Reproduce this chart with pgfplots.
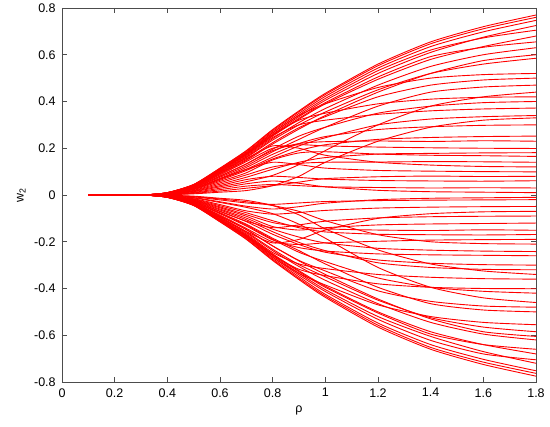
\documentclass[border=0pt]{standalone}
\usepackage{fontspec}
\setmainfont{Liberation Sans}
\usepackage{pgfplots}
\pgfplotsset{compat=1.18}
\definecolor{pr}{RGB}{255,0,0}
\begin{document}
\fontsize{12.5}{15}\selectfont
\begin{tikzpicture}[x=1pt,y=1pt]
\pgfplotstableread{
x P1 P2 P3 P4 P5 P6 P7 P8 P9 P10 P11 P12 P13 P14 P15 P16 P17 P18 P19 P20
0.1 0 0 0 0 0 0 0 0 0 0 0 0 0 0 0 0 0 0 0 0
0.3 0 0 0 0 0 0 0 0 0 0 0 0 0 0 0 0 0 0 0 0
0.4 .010 .010 .009 .009 .009 .010 .008 .007 .009 .006 .006 .008 .005 .006 .004 .002 .005 .008 .003 .001
0.5 .045 .044 .042 .041 .039 .043 .036 .032 .040 .028 .025 .034 .020 .027 .016 .009 .023 .038 .014 .005
0.6 .115 .112 .107 .104 .099 .109 .092 .081 .101 .071 .063 .086 .052 .069 .040 .023 .058 .097 .035 .012
0.7 .190 .184 .177 .171 .163 .180 .152 .133 .167 .118 .105 .143 .086 .110 .066 .038 .095 .160 .057 .019
0.8 .280 .272 .260 .252 .241 .266 .224 .196 .246 .174 .154 .200 .120 .140 .080 .045 .150 .235 .084 .040
0.9 .360 .349 .335 .324 .310 .340 .288 .252 .300 .220 .190 .215 .135 .130 .075 .040 .180 .300 .130 .080
1.0 .435 .422 .405 .390 .370 .390 .335 .290 .320 .250 .215 .210 .140 .115 .068 .035 .185 .355 .190 .140
1.2 .560 .543 .520 .495 .470 .460 .420 .350 .345 .280 .238 .205 .141 .105 .062 .032 .175 .450 .300 .230
1.4 .655 .635 .610 .580 .550 .500 .470 .380 .360 .292 .246 .202 .143 .102 .060 .030 .170 .520 .380 .290
1.6 .720 .698 .675 .635 .600 .515 .492 .395 .368 .298 .250 .200 .142 .100 .059 .031 .168 .560 .420 .320
1.8 .770 .747 .725 .680 .630 .520 .500 .400 .372 .300 .252 .199 .140 .099 .061 .030 .165 .585 .440 .330
}\tabP
\pgfplotstableread{
x N1 N2 N3 N4 N5 N6 N7 N8 N9 N10 N11 N12 N13 N14 N15 N16 N17 N18 N19 N20
0.1 0 0 0 0 0 0 0 0 0 0 0 0 0 0 0 0 0 0 0 0
0.3 0 0 0 0 0 0 0 0 0 0 0 0 0 0 0 0 0 0 0 0
0.4 -.010 -.010 -.009 -.009 -.009 -.010 -.008 -.007 -.009 -.006 -.005 -.008 -.004 -.006 -.004 -.002 -.005 -.008 -.003 -.001
0.5 -.045 -.044 -.042 -.041 -.038 -.043 -.035 -.031 -.040 -.027 -.023 -.034 -.020 -.028 -.016 -.008 -.022 -.037 -.013 -.005
0.6 -.115 -.111 -.107 -.104 -.098 -.109 -.090 -.078 -.101 -.069 -.060 -.086 -.051 -.071 -.041 -.021 -.055 -.095 -.032 -.014
0.7 -.190 -.184 -.177 -.171 -.162 -.180 -.148 -.129 -.167 -.114 -.099 -.143 -.084 -.112 -.068 -.034 -.091 -.158 -.053 -.023
0.8 -.280 -.272 -.260 -.252 -.238 -.266 -.218 -.190 -.246 -.168 -.146 -.200 -.118 -.140 -.082 -.040 -.135 -.232 -.080 -.045
0.9 -.362 -.350 -.335 -.324 -.306 -.335 -.280 -.245 -.295 -.212 -.180 -.212 -.135 -.128 -.075 -.034 -.150 -.298 -.125 -.085
1.0 -.438 -.425 -.405 -.390 -.365 -.385 -.325 -.285 -.315 -.245 -.205 -.205 -.145 -.112 -.066 -.028 -.140 -.350 -.185 -.145
1.2 -.565 -.548 -.520 -.500 -.465 -.470 -.410 -.355 -.340 -.278 -.228 -.198 -.150 -.098 -.056 -.024 -.128 -.450 -.310 -.235
1.4 -.660 -.640 -.605 -.585 -.545 -.520 -.455 -.395 -.352 -.292 -.236 -.193 -.152 -.093 -.052 -.022 -.124 -.525 -.395 -.295
1.6 -.725 -.703 -.670 -.640 -.595 -.545 -.475 -.412 -.358 -.298 -.240 -.191 -.149 -.091 -.050 -.021 -.122 -.565 -.440 -.325
1.8 -.775 -.752 -.720 -.680 -.620 -.555 -.480 -.420 -.360 -.300 -.242 -.190 -.151 -.090 -.049 -.020 -.120 -.585 -.460 -.340
}\tabN
\pgfplotstableread{
x Q1 Q2 Q3 Q4 Q5 Q6 Q7 Q8 Q9 Q10 Q11 Q12
0.1 0 0 0 0 0 0 0 0 0 0 0 0
0.3 0 0 0 0 0 0 0 0 0 0 0 0
0.4 .010 .010 .009 .008 .007 .009 .006 .007 .004 .003 .008 .002
0.5 .045 .043 .041 .035 .030 .041 .026 .032 .018 .011 .037 .007
0.6 .114 .109 .105 .090 .076 .106 .067 .080 .046 .029 .094 .017
0.7 .188 .180 .173 .148 .125 .175 .110 .133 .076 .048 .156 .029
0.8 .277 .266 .255 .218 .185 .258 .162 .190 .110 .060 .210 .040
0.9 .356 .342 .328 .282 .238 .320 .210 .220 .140 .050 .200 .055
1.0 .430 .413 .395 .340 .290 .350 .245 .228 .160 .035 .170 .070
1.2 .553 .532 .505 .440 .380 .390 .300 .231 .175 .020 .140 .078
1.4 .647 .620 .592 .520 .440 .410 .325 .229 .178 .014 .128 .081
1.6 .711 .672 .632 .575 .462 .418 .335 .232 .180 .012 .122 .079
1.8 .760 .705 .655 .600 .470 .420 .340 .230 .181 .010 .120 .080
}\tabQ
\pgfplotstableread{
x R1 R2 R3 R4 R5 R6 R7 R8 R9 R10 R11 R12
0.1 0 0 0 0 0 0 0 0 0 0 0 0
0.3 0 0 0 0 0 0 0 0 0 0 0 0
0.4 -.010 -.010 -.009 -.008 -.007 -.009 -.006 -.007 -.004 -.003 -.008 -.002
0.5 -.045 -.043 -.041 -.035 -.030 -.041 -.025 -.032 -.018 -.011 -.037 -.007
0.6 -.114 -.109 -.105 -.090 -.076 -.106 -.064 -.080 -.046 -.029 -.094 -.017
0.7 -.188 -.180 -.173 -.148 -.125 -.175 -.106 -.133 -.076 -.048 -.156 -.029
0.8 -.277 -.266 -.255 -.218 -.185 -.258 -.157 -.192 -.110 -.060 -.205 -.045
0.9 -.357 -.342 -.328 -.282 -.238 -.318 -.203 -.225 -.140 -.050 -.190 -.070
1.0 -.432 -.413 -.395 -.340 -.295 -.345 -.238 -.240 -.158 -.035 -.150 -.110
1.2 -.557 -.532 -.505 -.445 -.395 -.380 -.290 -.252 -.168 -.020 -.100 -.170
1.4 -.652 -.622 -.595 -.530 -.465 -.395 -.310 -.256 -.170 -.014 -.080 -.200
1.6 -.715 -.680 -.640 -.585 -.492 -.400 -.318 -.258 -.171 -.012 -.072 -.208
1.8 -.763 -.705 -.660 -.605 -.500 -.401 -.320 -.260 -.169 -.010 -.070 -.210
}\tabR
\begin{axis}[
  at={(0,0)}, anchor=south west,
  scale only axis, width=474pt, height=374pt,
  xmin=0, xmax=1.8, ymin=-0.8, ymax=0.8,
  xtick={0,0.2,...,1.8}, ytick={-0.8,-0.6,...,0.8},
  tick align=inside, tick pos=both,
  major tick length=5pt,
  axis line style={black!70, line width=0.5pt},
  tick style={black!70, line width=0.5pt},
  /pgf/number format/assume math mode=true,
  /pgf/number format/fixed,
  /pgf/number format/precision=1,
  xlabel={ρ}, ylabel={w\textsubscript{2}},
  every axis x label/.style={at={(axis description cs:0.5,-0.075)}, anchor=center},
  every axis y label/.style={at={(axis description cs:-0.086,0.5)}, anchor=center, rotate=90},
  xticklabel style={yshift=-2pt},
  yticklabel style={xshift=-2pt},
  clip=true,
  br/.style={draw=pr, line width=0.9pt, mark=none, smooth, tension=0.4},
]
\pgfplotsinvokeforeach{P1,P2,P3,P4,P5,P6,P7,P8,P9,P10,P11,P12,P13,P14,P15,P16,P17,P18,P19,P20}{
  \addplot[br] table[x=x, y=#1] {\tabP};
}
\pgfplotsinvokeforeach{N1,N2,N3,N4,N5,N6,N7,N8,N9,N10,N11,N12,N13,N14,N15,N16,N17,N18,N19,N20}{
  \addplot[br] table[x=x, y=#1] {\tabN};
}
\pgfplotsinvokeforeach{Q1,Q2,Q3,Q4,Q5,Q6,Q7,Q8,Q9,Q10,Q11,Q12}{
  \addplot[br] table[x=x, y=#1] {\tabQ};
}
\pgfplotsinvokeforeach{R1,R2,R3,R4,R5,R6,R7,R8,R9,R10,R11,R12}{
  \addplot[br] table[x=x, y=#1] {\tabR};
}
\end{axis}
\pgfresetboundingbox
\path[use as bounding box] (-62pt,-45pt) rectangle (488pt,382pt);
\end{tikzpicture}
\end{document}
